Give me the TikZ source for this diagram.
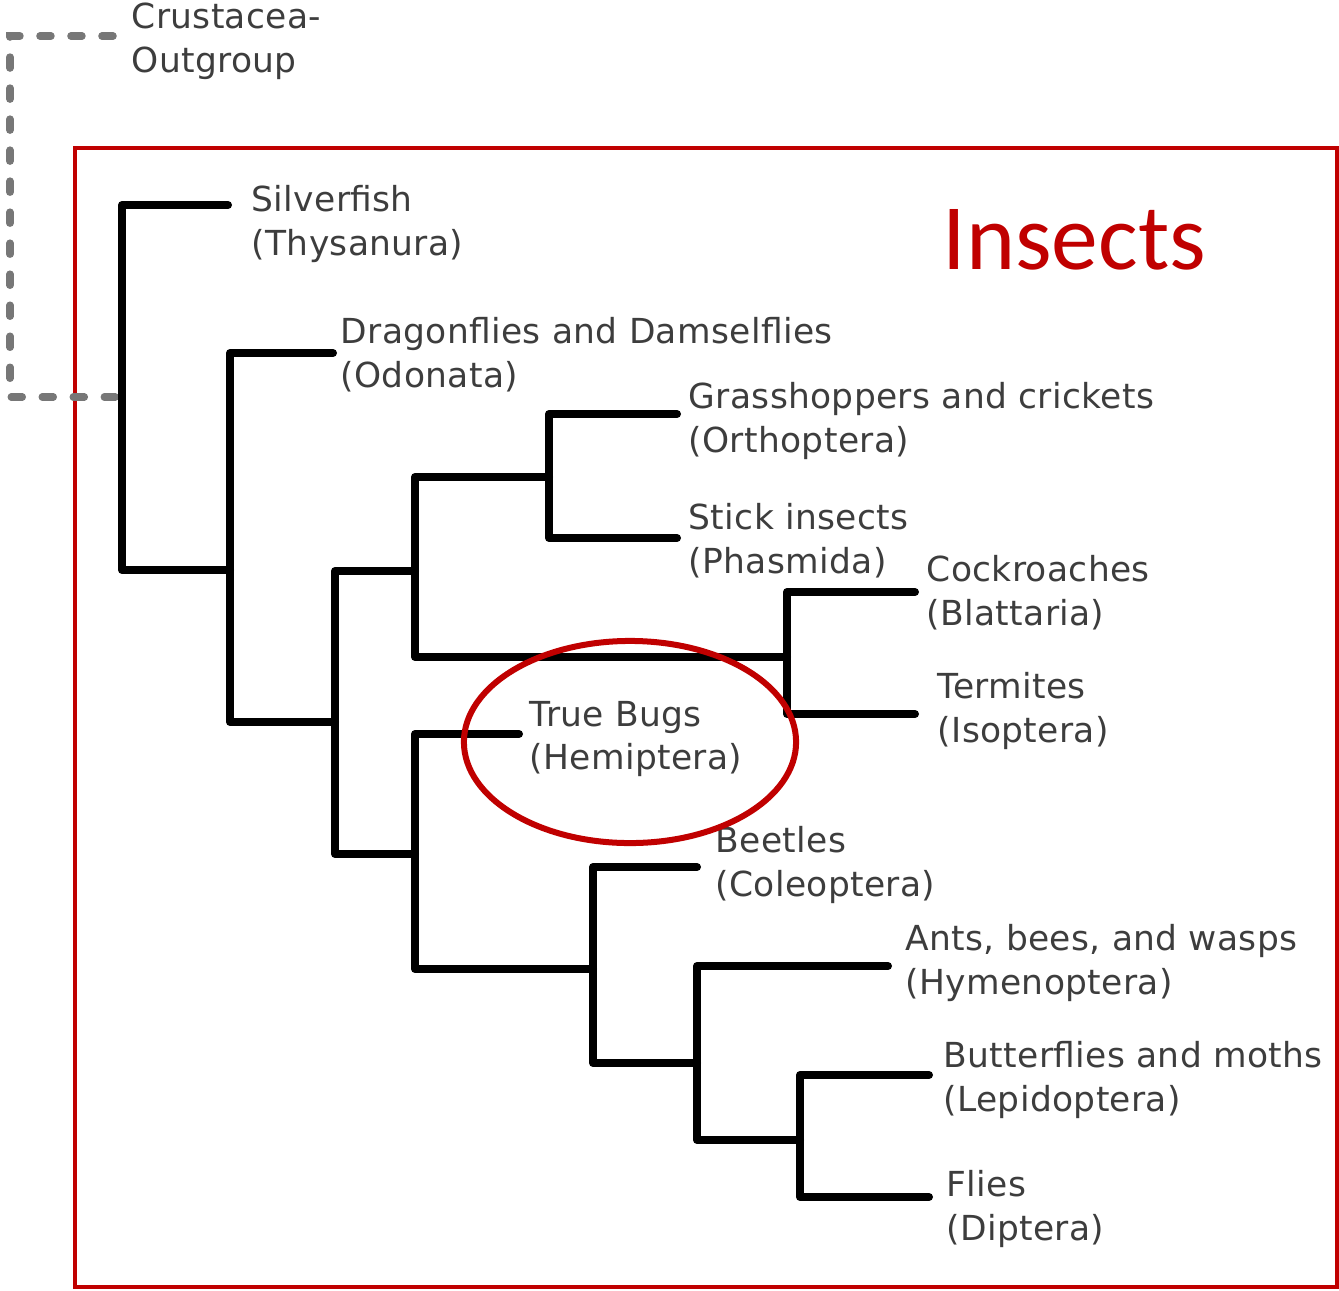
\documentclass[tikz,border=0pt]{standalone}
\usepackage{fontspec}
\setmainfont{DejaVu Sans}[LetterSpace=1.0]
\newfontfamily\calibrifont{Carlito}
\usepackage{xcolor}
\usepackage{tikz}
\usetikzlibrary{shapes.geometric}

\definecolor{insectred}{HTML}{C00000}
\definecolor{outgray}{HTML}{777777}

\begin{document}
\begin{tikzpicture}[
    x=0.01cm, y=-0.01cm,
    taxon/.style={anchor=west, inner sep=0pt, yshift=-0.03cm, align=left, text=black!76, font=\fontsize{9.8}{12.5}\selectfont},
    branch/.style={draw=black, line width=0.08cm, line cap=round, line join=round},
    outgroup/.style={draw=outgray, line width=0.075cm, line cap=round, dash pattern=on 0.11cm off 0.2cm},
    insectbox/.style={draw=insectred, line width=0.04cm},
    bugring/.style={ellipse, draw=insectred, line width=0.06cm, minimum width=3.32cm, minimum height=2.02cm, inner sep=0pt}
]
    \useasboundingbox (0,0) rectangle (1339,1290);

    % clade frame and title
    \draw[insectbox] (75,148) rectangle (1337,1287);
    \node[anchor=west, inner sep=0pt, text=insectred, font=\calibrifont\fontsize{26.6}{30}\selectfont] (title) at (942,240) {Insects};

    % branch tips
    \coordinate (crust) at (113,36);
    \coordinate (bend) at (10,397);
    \coordinate (silver) at (228,205);
    \coordinate (odon) at (333,353);
    \coordinate (orth) at (677,414);
    \coordinate (phas) at (677,538);
    \coordinate (blat) at (915,592);
    \coordinate (isop) at (915,714);
    \coordinate (hemi) at (519,734);
    \coordinate (cole) at (697,867);
    \coordinate (hyme) at (888,966);
    \coordinate (lepi) at (929,1075);
    \coordinate (dipt) at (929,1197);

    % internal nodes
    \coordinate (j0) at (122,397);
    \coordinate (j1) at (230,570);
    \coordinate (j2) at (335,722);
    \coordinate (j3) at (415,571);
    \coordinate (j4) at (549,477);
    \coordinate (j5) at (787,657);
    \coordinate (j6) at (415,854);
    \coordinate (j7) at (593,969);
    \coordinate (j8) at (697,1063);
    \coordinate (j9) at (800,1140);

    \draw[outgroup] (crust) -| (bend) |- (j0);

    \draw[branch] (silver) -| (j0) |- (j1);
    \draw[branch] (odon) -| (j1) |- (j2);
    \draw[branch] (j3) -| (j2) |- (j6);
    \draw[branch] (j4) -| (j3) |- (j5);
    \draw[branch] (orth) -| (j4) |- (phas);
    \draw[branch] (blat) -| (j5) |- (isop);
    \draw[branch] (hemi) -| (j6) |- (j7);
    \draw[branch] (cole) -| (j7) |- (j8);
    \draw[branch] (hyme) -| (j8) |- (j9);
    \draw[branch] (lepi) -| (j9) |- (dipt);

    % labels
    \node[taxon] (crustL) at (131,38) {Crustacea-\\Outgroup};
    \node[taxon] (silverL) at (251,221) {Silverfish\\(Thysanura)};
    \node[taxon] (odonL) at (340,352) {Dragonflies and Damselflies\\(Odonata)};
    \node[taxon] (orthL) at (688,418) {Grasshoppers and crickets\\(Orthoptera)};
    \node[taxon] (phasL) at (688,538) {Stick insects\\(Phasmida)};
    \node[taxon] (blatL) at (926,590) {Cockroaches\\(Blattaria)};
    \node[taxon] (isopL) at (937,708) {Termites\\(Isoptera)};
    \node[taxon] (hemiL) at (529,736) {True Bugs\\(Hemiptera)};
    \node[taxon] (coleL) at (715,862) {Beetles\\(Coleoptera)};
    \node[taxon] (hymeL) at (905,960) {Ants, bees, and wasps\\(Hymenoptera)};
    \node[taxon] (lepiL) at (943,1077) {Butterflies and moths\\(Lepidoptera)};
    \node[taxon] (diptL) at (946,1206) {Flies\\(Diptera)};

    \node[bugring] (ring) at (630,742) {};
\end{tikzpicture}
\end{document}
